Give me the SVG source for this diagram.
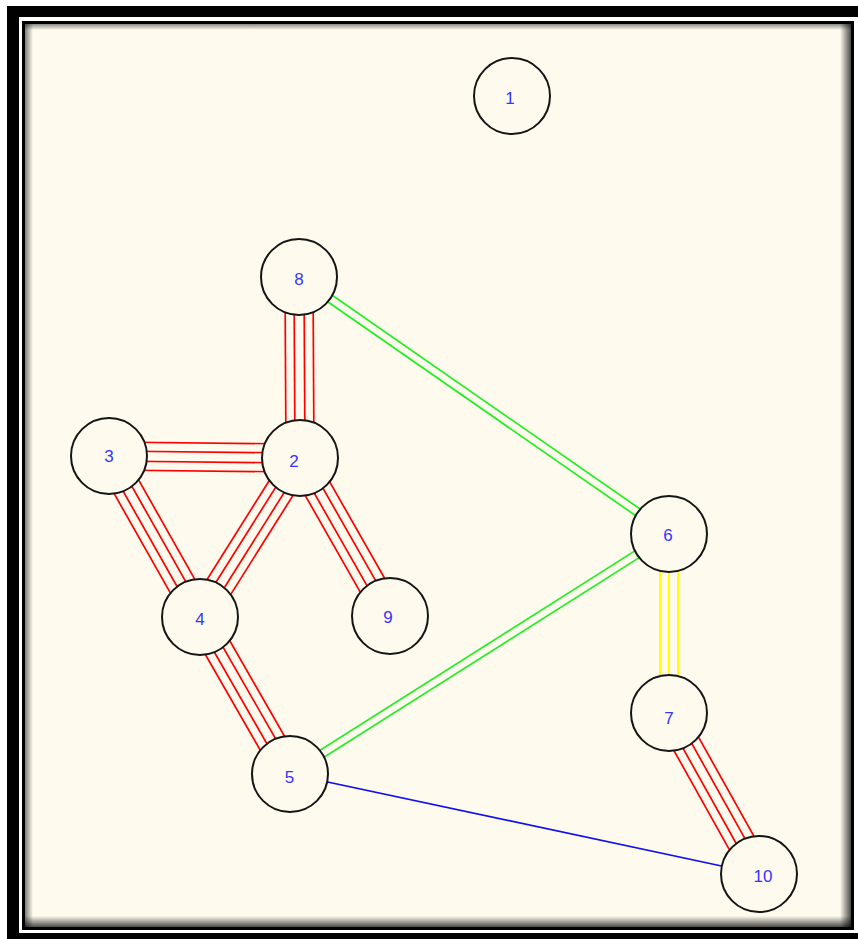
<svg xmlns="http://www.w3.org/2000/svg" width="858" height="939" viewBox="0 0 858 939">
<style>
.node circle{fill:#FEFBEE;stroke:#151515;stroke-width:2}
.node text{font-family:"Liberation Sans",Arial,sans-serif;font-size:17px;fill:#3434ff;text-anchor:middle}
.r line{stroke:#ff0000;stroke-width:1.7}
.g line{stroke:#22ee22;stroke-width:1.7}
.y line{stroke:#ffff00;stroke-width:1.9}
.b line{stroke:#1010ee;stroke-width:1.7}
</style>
<defs>
<linearGradient id="shL" x1="0" y1="0" x2="1" y2="0"><stop offset="0" stop-color="#000" stop-opacity="0.5"/><stop offset="1" stop-color="#000" stop-opacity="0"/></linearGradient>
<linearGradient id="shR" x1="1" y1="0" x2="0" y2="0"><stop offset="0" stop-color="#000" stop-opacity="0.7"/><stop offset="1" stop-color="#000" stop-opacity="0"/></linearGradient>
<linearGradient id="shT" x1="0" y1="0" x2="0" y2="1"><stop offset="0" stop-color="#000" stop-opacity="0.45"/><stop offset="1" stop-color="#000" stop-opacity="0"/></linearGradient>
<linearGradient id="shB" x1="0" y1="1" x2="0" y2="0"><stop offset="0" stop-color="#000" stop-opacity="0.7"/><stop offset="1" stop-color="#000" stop-opacity="0"/></linearGradient>
</defs>
<rect x="0" y="0" width="858" height="939" fill="#ffffff"/>
<g id="frame">
<rect x="7" y="6" width="851" height="11" fill="#000"/>
<rect x="7" y="6" width="12" height="933" fill="#000"/>
<rect x="7" y="933" width="851" height="6" fill="#000"/>
<rect x="23.5" y="22.5" width="829" height="906" fill="#FEFBEE" stroke="#000" stroke-width="3"/>
<rect x="25" y="24" width="8" height="903" fill="url(#shL)"/>
<rect x="840" y="24" width="11" height="903" fill="url(#shR)"/>
<rect x="25" y="24" width="826" height="6" fill="url(#shT)"/>
<rect x="25" y="916" width="826" height="11" fill="url(#shB)"/>
</g>
<g id="connectors">
<g id="e8-2" class="r" transform="translate(299 277) rotate(89.68)"><line x1="0" y1="-14" x2="181" y2="-14"/><line x1="0" y1="-5" x2="181" y2="-5"/><line x1="0" y1="5" x2="181" y2="5"/><line x1="0" y1="14" x2="181" y2="14"/></g>
<g id="e3-2" class="r" transform="translate(109 456) rotate(0.6)"><line x1="0" y1="-14" x2="191" y2="-14"/><line x1="0" y1="-5" x2="191" y2="-5"/><line x1="0" y1="5" x2="191" y2="5"/><line x1="0" y1="14" x2="191" y2="14"/></g>
<g id="e3-4" class="r" transform="translate(109 456) rotate(60.52)"><line x1="0" y1="-14" x2="185" y2="-14"/><line x1="0" y1="-5" x2="185" y2="-5"/><line x1="0" y1="5" x2="185" y2="5"/><line x1="0" y1="14" x2="185" y2="14"/></g>
<g id="e2-4" class="r" transform="translate(300 458) rotate(122.17)"><line x1="0" y1="-14" x2="188" y2="-14"/><line x1="0" y1="-5" x2="188" y2="-5"/><line x1="0" y1="5" x2="188" y2="5"/><line x1="0" y1="14" x2="188" y2="14"/></g>
<g id="e2-9" class="r" transform="translate(300 458) rotate(60.33)"><line x1="0" y1="-14" x2="182" y2="-14"/><line x1="0" y1="-5" x2="182" y2="-5"/><line x1="0" y1="5" x2="182" y2="5"/><line x1="0" y1="14" x2="182" y2="14"/></g>
<g id="e4-5" class="r" transform="translate(200 617) rotate(60.17)"><line x1="0" y1="-14" x2="181" y2="-14"/><line x1="0" y1="-5" x2="181" y2="-5"/><line x1="0" y1="5" x2="181" y2="5"/><line x1="0" y1="14" x2="181" y2="14"/></g>
<g id="e7-10" class="r" transform="translate(669 713) rotate(60.79)"><line x1="0" y1="-14" x2="184.5" y2="-14"/><line x1="0" y1="-5" x2="184.5" y2="-5"/><line x1="0" y1="5" x2="184.5" y2="5"/><line x1="0" y1="14" x2="184.5" y2="14"/></g>
<g id="e8-6" class="g" transform="translate(299 277) rotate(34.78)"><line x1="0" y1="-4" x2="450.5" y2="-4"/><line x1="0" y1="4" x2="450.5" y2="4"/></g>
<g id="e5-6" class="g" transform="translate(290 774) rotate(-32.34)"><line x1="0" y1="-4" x2="448.6" y2="-4"/><line x1="0" y1="4" x2="448.6" y2="4"/></g>
<g id="e6-7" class="y" transform="translate(669 534) rotate(90)"><line x1="0" y1="-9" x2="179" y2="-9"/><line x1="0" y1="0" x2="179" y2="0"/><line x1="0" y1="9" x2="179" y2="9"/></g>
<g id="e5-10" class="b"><line x1="290" y1="774" x2="759" y2="874"/></g>
</g>
<g id="n1" class="node"><circle cx="512" cy="96" r="38"/><text x="510" y="104">1</text></g>
<g id="n2" class="node"><circle cx="300" cy="458" r="38"/><text x="294" y="466.5">2</text></g>
<g id="n3" class="node"><circle cx="109" cy="456" r="38"/><text x="109" y="461.8">3</text></g>
<g id="n4" class="node"><circle cx="200" cy="617" r="38"/><text x="200" y="624.5">4</text></g>
<g id="n5" class="node"><circle cx="290" cy="774" r="38"/><text x="289.5" y="783">5</text></g>
<g id="n6" class="node"><circle cx="669" cy="534" r="38"/><text x="668" y="540.5">6</text></g>
<g id="n7" class="node"><circle cx="669" cy="713" r="38"/><text x="669" y="723.5">7</text></g>
<g id="n8" class="node"><circle cx="299" cy="277" r="38"/><text x="299" y="284.8">8</text></g>
<g id="n9" class="node"><circle cx="390" cy="616" r="38"/><text x="388" y="623">9</text></g>
<g id="n10" class="node"><circle cx="759" cy="874" r="38"/><text x="763" y="881.5">10</text></g>
</svg>
